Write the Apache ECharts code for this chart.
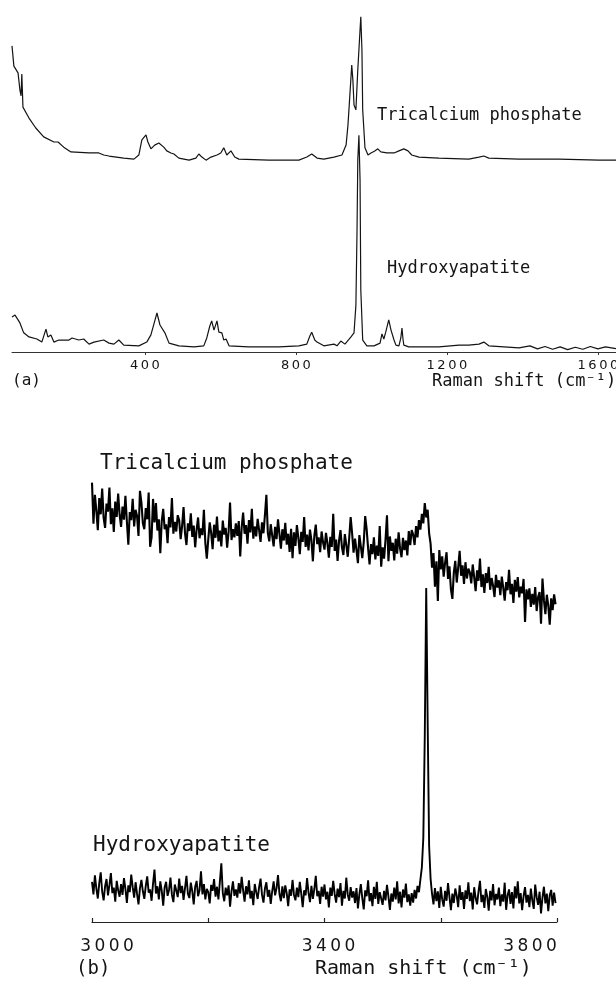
<!DOCTYPE html>
<html>
<head>
<meta charset="utf-8">
<title>Raman spectra</title>
<script src="https://cdn.jsdelivr.net/npm/echarts@6/dist/echarts.min.js"></script>
<style>
  html, body { margin: 0; padding: 0; background: #fff; }
  #chart { width: 616px; height: 988px; }
</style>
</head>
<body>
<div id="chart"></div>
<script>
// (a) 低波数区 Raman shift (cm-1) 与强度 (任意单位, 含偏移)
const aShiftTcp = [48, 53, 64, 69, 72, 74, 77, 93, 111, 132, 159, 170, 185, 204, 252, 278, 291, 305, 344, 371,
  384, 392, 403, 408, 416, 426, 437, 450, 458, 469, 477, 490, 517, 535, 543, 551, 562, 575, 591, 601,
  609, 617, 628, 638, 649, 728, 808, 829, 842, 856, 874, 901, 922, 933, 938, 943, 948, 951, 954, 959,
  964, 970, 972, 975, 977, 983, 991, 999, 1009, 1017, 1025, 1041, 1060, 1073, 1086, 1097, 1107, 1126, 1179, 1258,
  1285, 1298, 1311, 1391, 1497, 1603, 1648]
const aTcp = [89.5, 83.6, 81.6, 76.6, 74.9, 81.3, 71.6, 68.4, 65.5, 62.9, 61.4, 61.4, 59.9, 58.5, 58.2, 58.2, 57.6, 57.3, 56.7, 56.4,
  57.6, 62.0, 63.5, 61.4, 59.4, 60.5, 61.1, 59.9, 58.8, 58.2, 57.9, 56.7, 56.1, 56.7, 57.9, 57.0, 56.1, 57.0, 57.6, 58.2,
  59.7, 57.6, 58.8, 57.0, 56.4, 56.1, 56.1, 57.0, 57.9, 56.7, 56.4, 57.0, 57.6, 60.5, 66.4, 75.1, 83.9, 79.5, 72.2, 70.8,
  82.5, 94.2, 98.0, 88.3, 70.8, 59.7, 57.6, 58.2, 58.8, 59.4, 58.5, 58.2, 58.2, 58.8, 59.4, 58.8, 57.6, 57.0, 56.7, 56.4,
  57.0, 57.3, 56.7, 56.4, 56.4, 56.1, 56.1]

const aShiftHap = [48, 56, 64, 69, 74, 79, 93, 114, 127, 138, 143, 151, 159, 172, 199, 207, 225, 238, 252, 265,
  291, 305, 318, 331, 344, 384, 405, 416, 424, 432, 440, 445, 453, 464, 490, 530, 556, 564, 572, 577,
  583, 591, 596, 604, 609, 615, 623, 675, 755, 808, 829, 837, 842, 850, 856, 874, 901, 909, 919, 930,
  946, 954, 959, 962, 964, 967, 970, 972, 977, 988, 1007, 1023, 1028, 1033, 1038, 1046, 1052, 1060, 1065, 1073,
  1078, 1081, 1084, 1086, 1099, 1179, 1232, 1258, 1285, 1298, 1311, 1391, 1420, 1440, 1460, 1480, 1500, 1520, 1540, 1560,
  1580, 1600, 1620, 1648]
const aHap = [10.2, 10.8, 9.4, 8.5, 8.8, 5.6, 4.4, 3.8, 2.9, 6.7, 4.4, 5.0, 2.9, 3.5, 3.5, 4.1, 3.5, 3.8, 2.3, 2.9,
  3.5, 2.6, 2.3, 3.5, 2.0, 1.8, 2.9, 5.0, 8.2, 11.4, 7.9, 7.9, 5.6, 2.6, 1.8, 1.5, 1.8, 4.1, 7.6, 9.1,
  6.4, 9.1, 5.8, 5.6, 3.5, 3.8, 1.8, 1.5, 1.5, 1.8, 2.3, 4.7, 5.8, 3.5, 2.9, 1.8, 2.3, 1.8, 3.2, 2.3,
  4.4, 5.6, 13.7, 35.7, 56.1, 63.4, 50.3, 18.1, 3.5, 1.8, 1.8, 2.6, 5.3, 3.8, 5.8, 9.4, 6.4, 3.5, 2.0, 1.8,
  4.1, 7.0, 3.5, 2.0, 1.5, 1.5, 2.0, 2.0, 2.3, 2.9, 1.8, 1.2, 1.8, 0.9, 1.6, 0.8, 1.5, 0.7, 1.4, 0.8,
  1.6, 0.9, 1.5, 1.0]

// (b) OH 伸缩区, 采样间隔 2.5 cm-1, 从 3000 开始, 每行 50 cm-1
const bStart = 3000
const bStep = 2.5
const bTcp = [
  97.2, 88.1, 94.5, 91.0, 86.7, 93.8, 90.2, 95.9, 89.4, 87.2, 92.6, 90.8, 96.1, 88.0, 91.5, 86.3, 93.0, 89.6, 94.8, 90.1,
  87.4, 91.9, 89.0, 94.3, 88.6, 83.5, 90.7, 88.9, 93.6, 87.5, 91.2, 89.8, 85.4, 95.4, 92.8, 88.2, 86.9, 91.6, 89.1, 95.0,
  83.0, 85.1, 93.6, 88.4, 92.7, 86.6, 89.1, 81.6, 88.7, 91.4, 86.9, 88.0, 83.8, 89.6, 87.3, 93.8, 85.9, 88.5, 86.4, 90.0,
  88.9, 84.7, 87.6, 91.8, 86.0, 83.4, 88.2, 86.5, 90.4, 85.2, 87.7, 82.9, 86.8, 89.5, 84.9, 87.1, 85.6, 91.2, 83.8, 80.4,
  84.6, 88.4, 86.1, 82.5, 87.9, 85.0, 89.7, 84.2, 86.6, 83.1, 88.8, 85.7, 87.2, 82.8, 86.3, 92.8, 84.5, 86.9, 85.1, 88.2,
  85.4, 88.7, 80.9, 87.3, 90.6, 85.9, 87.8, 83.7, 88.9, 86.2, 91.4, 84.8, 87.5, 85.3, 89.2, 86.7, 84.1, 88.4, 86.0, 90.0,
  94.5, 86.1, 84.2, 88.0, 85.5, 83.1, 87.4, 84.7, 89.1, 85.8, 82.6, 86.9, 84.4, 88.3, 83.5, 85.9, 81.9, 87.0, 80.5, 86.2,
  83.2, 87.8, 85.0, 81.4, 86.3, 84.1, 89.6, 83.0, 85.7, 82.2, 86.8, 84.5, 79.8, 85.4, 87.9, 83.6, 85.1, 81.8, 86.4, 84.0,
  82.4, 86.1, 83.8, 80.6, 85.2, 83.0, 90.3, 82.1, 84.6, 79.9, 84.3, 86.7, 82.9, 81.2, 85.8, 83.4, 80.8, 84.9, 89.6, 86.0,
  81.7, 84.8, 82.3, 79.4, 85.6, 83.1, 80.5, 84.0, 89.8, 86.9, 82.7, 79.1, 83.6, 81.4, 85.1, 80.2, 83.3, 81.0, 87.6, 78.6,
  82.9, 80.4, 84.6, 90.0, 79.8, 85.3, 82.1, 83.9, 80.0, 84.8, 81.5, 86.2, 82.6, 80.7, 85.0, 82.3, 84.4, 81.1, 86.5, 83.4,
  86.7, 85.7, 83.4, 87.6, 85.1, 88.9, 86.8, 90.3, 88.2, 92.7, 89.5, 91.2, 86.0, 83.7, 78.4, 81.6, 74.2, 79.8, 71.0, 82.3,
  78.0, 80.9, 76.4, 79.5, 81.8, 75.9, 78.7, 73.6, 71.5, 77.3, 79.9, 75.1, 78.4, 82.1, 76.6, 78.9, 74.8, 79.6, 76.0, 78.2,
  77.4, 74.9, 79.1, 76.3, 73.2, 77.8, 75.5, 80.4, 74.1, 76.9, 72.8, 77.2, 75.0, 78.6, 73.5, 76.1, 74.4, 71.9, 76.8, 74.0,
  75.6, 72.3, 76.4, 74.0, 71.1, 75.2, 73.4, 77.9, 72.5, 74.8, 70.6, 75.7, 73.1, 76.3, 71.8, 74.2, 72.7, 75.9, 66.4, 73.6,
  71.4, 73.8, 69.7, 72.6, 70.2, 74.1, 68.8, 71.9, 73.0, 66.0, 76.0, 71.2, 68.1, 72.4, 70.0, 65.8, 71.6, 69.0, 72.5, 70.3]
const bHap = [
  8.9, 6.1, 10.3, 7.4, 5.2, 8.6, 11.0, 6.7, 4.8, 7.9, 9.5, 5.9, 8.2, 10.8, 6.4, 7.6, 4.5, 9.1, 7.0, 5.6,
  8.4, 6.0, 9.7, 7.3, 4.2, 8.1, 6.6, 10.5, 7.7, 5.4, 8.8, 6.2, 3.9, 7.5, 9.3, 6.8, 5.1, 8.0, 10.1, 6.5,
  7.2, 4.7, 8.5, 11.6, 6.3, 7.9, 5.0, 9.0, 6.9, 3.6, 7.7, 8.9, 5.8, 7.1, 9.8, 6.0, 4.4, 8.3, 7.0, 5.5,
  9.6, 6.4, 8.0, 4.9, 7.5, 10.2, 6.2, 5.3, 8.7, 6.8, 3.9, 7.8, 9.1, 5.7, 7.0, 11.2, 6.1, 8.4, 5.0, 7.3,
  6.6, 4.1, 8.2, 6.9, 9.5, 5.6, 7.8, 5.0, 8.9, 13.0, 6.4, 4.6, 7.6, 5.9, 8.1, 3.4, 6.8, 9.0, 5.8, 7.2,
  5.4, 8.6, 6.3, 10.0, 7.0, 4.5, 7.9, 6.1, 9.2, 5.2, 6.9, 3.7, 8.4, 6.6, 5.1, 7.7, 9.6, 6.0, 4.3, 7.4,
  8.8, 5.6, 7.1, 4.0, 6.8, 9.0, 5.9, 7.5, 10.4, 6.2, 4.6, 7.9, 5.3, 8.1, 6.4, 3.5, 7.2, 5.8, 9.3, 6.0,
  4.8, 7.6, 5.5, 8.9, 6.3, 3.3, 7.0, 5.9, 9.7, 6.5, 4.4, 8.0, 5.1, 7.3, 10.2, 5.7, 6.9, 4.0, 7.8, 5.6,
  8.3, 5.0, 6.7, 3.2, 7.6, 5.8, 9.1, 6.2, 4.3, 7.4, 5.5, 8.6, 3.6, 6.9, 5.2, 9.8, 6.0, 4.7, 7.7, 5.4,
  6.8, 4.2, 7.5, 3.0, 6.1, 8.4, 5.3, 2.8, 7.0, 5.7, 9.2, 4.6, 6.4, 3.5, 7.8, 5.1, 8.9, 4.0, 6.6, 5.2,
  3.8, 6.9, 4.8, 8.2, 5.6, 2.7, 6.3, 4.5, 7.6, 5.0, 9.0, 4.1, 6.7, 3.2, 7.2, 5.4, 8.5, 4.4, 6.1, 3.6,
  6.4, 4.3, 7.1, 5.2, 8.0, 6.6, 9.4, 12.1, 18.6, 41.0, 73.9, 44.2, 16.8, 9.6, 6.2, 3.9, 7.5, 4.6, 6.8, 3.1,
  7.8, 5.0, 3.4, 6.9, 4.7, 8.6, 5.5, 2.6, 6.3, 4.2, 7.4, 5.8, 3.3, 8.1, 4.9, 6.6, 2.9, 7.0, 5.1, 8.8,
  4.6, 6.5, 2.8, 7.7, 5.3, 3.9, 6.8, 9.1, 4.4, 6.0, 3.1, 7.3, 5.6, 2.5, 6.9, 4.8, 8.4, 3.7, 6.2, 5.0,
  7.6, 3.5, 6.1, 4.5, 8.7, 2.7, 5.9, 7.2, 4.0, 6.6, 3.0, 7.9, 5.2, 9.0, 4.1, 6.4, 2.6, 5.7, 7.7, 4.3,
  6.0, 3.3, 7.4, 4.8, 2.9, 8.3, 5.5, 3.8, 6.7, 1.9, 5.4, 7.8, 4.1, 6.3, 2.4, 5.9, 7.1, 3.6, 6.5, 4.2]

const aTicks = [400, 800, 1200, 1600]
const bTicks = [3000, 3200, 3400, 3600, 3800]
const bLabels = [3000, 3400, 3800]

const mono = '"DejaVu Sans Mono", monospace'
const sans = '"DejaVu Sans", sans-serif'
const ink = '#141414'

function pairs (xs, ys) {
  return ys.map((y, i) => [xs[i], y])
}
const bShift = bTcp.map((v, i) => bStart + i * bStep)

// 数字之间加细空格, 模仿原图的宽字距
function spaced (v) {
  return String(v).split('').join('\u2009')
}

const chart = echarts.init(document.getElementById('chart'))

const option = {
  backgroundColor: '#fff',
  animation: false,
  grid: [
    { left: 12, top: 10, width: 604, height: 342, containLabel: false, outerBoundsMode: 'none' },
    { left: 92, top: 470, width: 465, height: 452, containLabel: false, outerBoundsMode: 'none' }
  ],
  xAxis: [
    {
      gridIndex: 0,
      type: 'value',
      min: 48,
      max: 1648,
      axisLine: { lineStyle: { color: '#333', width: 1 } },
      axisTick: { customValues: aTicks, length: 3, lineStyle: { color: '#333' } },
      axisLabel: {
        customValues: aTicks,
        margin: 7,
        color: ink,
        fontFamily: sans,
        fontSize: 13,
        formatter: spaced
      },
      splitLine: { show: false }
    },
    {
      gridIndex: 1,
      type: 'value',
      min: 3000,
      max: 3800,
      axisLine: { lineStyle: { color: '#222', width: 1.2 } },
      axisTick: { customValues: bTicks, inside: true, length: 4, lineStyle: { color: '#222', width: 1.2 } },
      axisLabel: {
        customValues: bLabels,
        margin: 16,
        color: ink,
        formatter: (v) => {
          if (v === 3000) return '{l|' + spaced(v) + '}'
          if (v === 3800) return '{r|' + spaced(v) + '}'
          return '{c|' + spaced(v) + '}'
        },
        rich: {
          l: { fontFamily: sans, fontSize: 17, color: ink, padding: [0, 0, 0, 30] },
          c: { fontFamily: sans, fontSize: 17, color: ink, padding: [0, 0, 0, 8] },
          r: { fontFamily: sans, fontSize: 17, color: ink, padding: [0, 54, 0, 0] }
        }
      },
      splitLine: { show: false }
    }
  ],
  yAxis: [
    { gridIndex: 0, type: 'value', min: 0, max: 100, show: false },
    { gridIndex: 1, type: 'value', min: 0, max: 100, show: false }
  ],
  series: [
    {
      name: 'Tricalcium phosphate (a)',
      type: 'line',
      xAxisIndex: 0,
      yAxisIndex: 0,
      data: pairs(aShiftTcp, aTcp),
      showSymbol: false,
      lineStyle: { color: ink, width: 1.2 },
      silent: true
    },
    {
      name: 'Hydroxyapatite (a)',
      type: 'line',
      xAxisIndex: 0,
      yAxisIndex: 0,
      data: pairs(aShiftHap, aHap),
      showSymbol: false,
      lineStyle: { color: ink, width: 1.2 },
      silent: true
    },
    {
      name: 'Tricalcium phosphate (b)',
      type: 'line',
      xAxisIndex: 1,
      yAxisIndex: 1,
      data: pairs(bShift, bTcp),
      showSymbol: false,
      lineStyle: { color: '#000', width: 2.1 },
      silent: true
    },
    {
      name: 'Hydroxyapatite (b)',
      type: 'line',
      xAxisIndex: 1,
      yAxisIndex: 1,
      data: pairs(bShift, bHap),
      showSymbol: false,
      lineStyle: { color: '#000', width: 1.9 },
      silent: true
    }
  ],
  graphic: [
    { type: 'text', left: 377, top: 107, style: { text: 'Tricalcium phosphate', fontFamily: mono, fontSize: 17, fill: ink } },
    { type: 'text', left: 387, top: 260, style: { text: 'Hydroxyapatite', fontFamily: mono, fontSize: 17, fill: ink } },
    { type: 'text', left: 12, top: 373, style: { text: '(a)', fontFamily: mono, fontSize: 16, fill: ink } },
    { type: 'text', left: 432, top: 373, style: { text: 'Raman shift (cm\u207B\u00B9)', fontFamily: mono, fontSize: 17, fill: ink } },
    { type: 'text', left: 100, top: 453, style: { text: 'Tricalcium phosphate', fontFamily: mono, fontSize: 21, fill: ink } },
    { type: 'text', left: 93, top: 835, style: { text: 'Hydroxyapatite', fontFamily: mono, fontSize: 21, fill: ink } },
    { type: 'text', left: 76, top: 960, style: { text: '(b)', fontFamily: mono, fontSize: 19, fill: ink } },
    { type: 'text', left: 315, top: 959, style: { text: 'Raman shift (cm\u207B\u00B9)', fontFamily: mono, fontSize: 20, fill: ink } }
  ]
}

chart.setOption(option)
</script>
</body>
</html>
